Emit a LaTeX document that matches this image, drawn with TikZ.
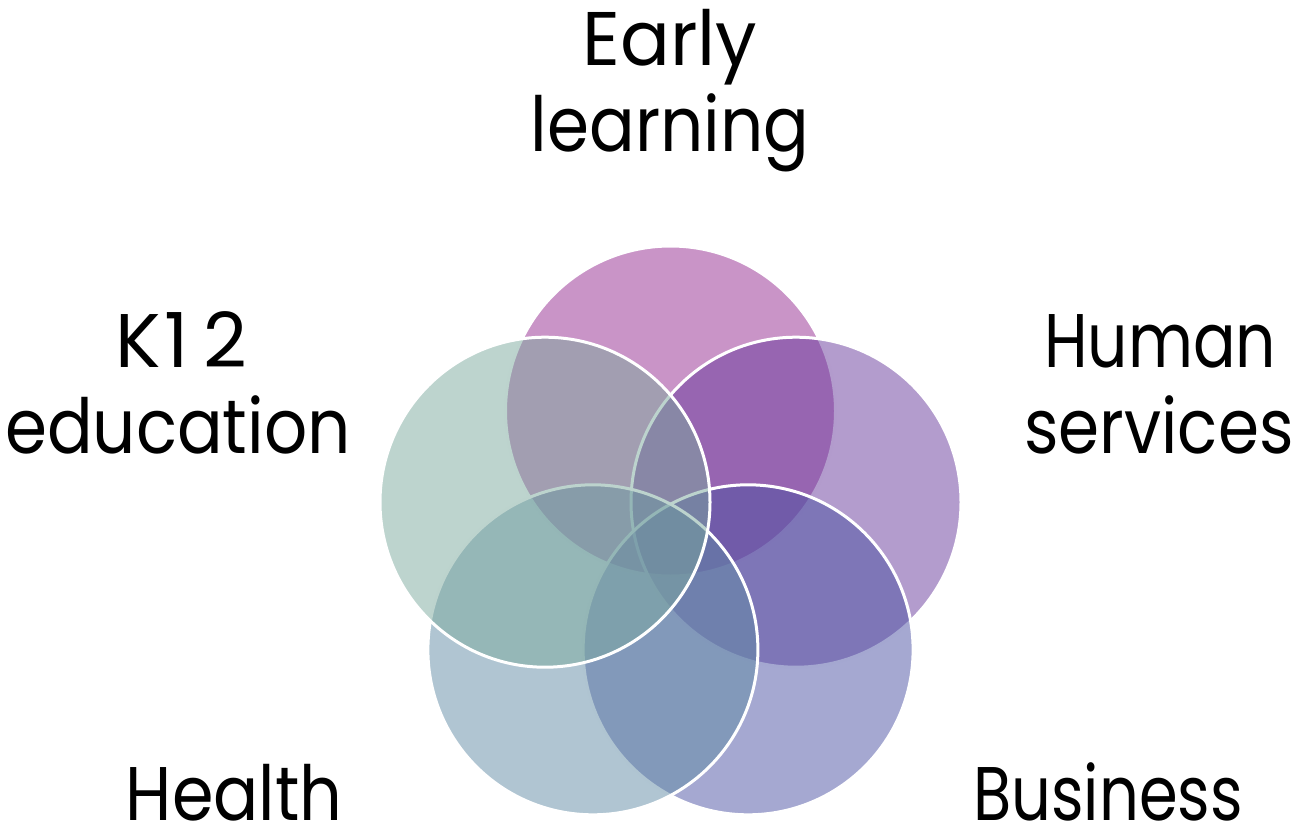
\documentclass[tikz,border=0pt]{standalone}
\usepackage{fontspec}
\setmainfont{Poppins}
\definecolor{cEarly}{RGB}{147,41,143}
\definecolor{cHuman}{RGB}{103,57,155}
\definecolor{cBusiness}{RGB}{75,81,163}
\definecolor{cHealth}{RGB}{97,139,165}
\definecolor{cKtwelve}{RGB}{123,169,157}
\newcommand{\sqz}[2]{\scalebox{#1}[1]{#2}}
\begin{document}
\begin{tikzpicture}[x=1pt,y=-1pt,
  venn/.style={fill=#1, fill opacity=0.5, draw=white, draw opacity=1, line width=3pt},
  lbl/.style={anchor=base, inner sep=0pt, text=black, font=\fontsize{76}{86}\selectfont}]
\useasboundingbox (0,0) rectangle (1300,827);
% circles, drawn clockwise from the top
\path[venn=cEarly]    (670.5,411)   circle (165);
\path[venn=cHuman]    (796,502.2)   circle (165);
\path[venn=cBusiness] (748.1,649.8) circle (165);
\path[venn=cHealth]   (592.9,649.8) circle (165);
\path[venn=cKtwelve]  (545,502.2)   circle (165);
% labels
\node[lbl] (early1) at (670,65)   {\sqz{0.97}{Early}};
\node[lbl] (early2) at (670,151)  {\sqz{0.89}{learning}};
\node[lbl] (k1)     at (181,367)  {\sqz{1.0}{K\kern4pt1\kern14pt2}};
\node[lbl] (k2)     at (178,453)  {\sqz{0.89}{education}};
\node[lbl] (hs1)    at (1160,367) {\sqz{0.83}{Human}};
\node[lbl] (hs2)    at (1159,453) {\sqz{0.87}{services}};
\node[lbl] (hea)    at (234,820)  {\sqz{0.88}{Health}};
\node[lbl] (bus)    at (1108,820) {\sqz{0.82}{Business}};
\end{tikzpicture}
\end{document}
